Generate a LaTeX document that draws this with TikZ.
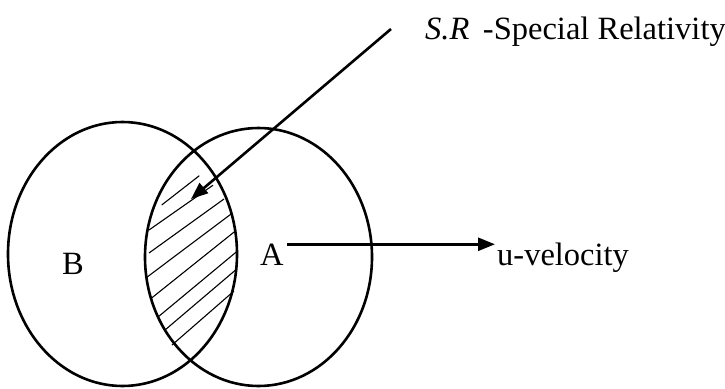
\documentclass[tikz,border=0pt]{standalone}
\usepackage{fontspec}
\setmainfont{Liberation Serif}
\usetikzlibrary{arrows.meta}
\begin{document}
\begin{tikzpicture}[x=1pt,y=-1pt,
  outline/.style={line width=2.6pt},
  hatchline/.style={line width=1.1pt},
  pointer/.style={line width=2.6pt,-{Triangle[length=17pt,width=13pt]}},
  lbl/.style={font=\fontsize{32.5}{36}\selectfont,inner sep=0pt}]
\useasboundingbox (0,0) rectangle (725,388);
% circles
\draw[outline] (122.5,254) ellipse [x radius=114.5pt, y radius=132pt];
\draw[outline] (258.5,257) ellipse [x radius=113.5pt, y radius=129pt];
% hatching
\draw[hatchline] (161.7,205) -- (199.3,175.7);
\draw[hatchline] (149,230) -- (213,185.2);
\draw[hatchline] (149,253) -- (224,199);
\draw[hatchline] (146.5,277.5) -- (231,214.1);
\draw[hatchline] (151,298.5) -- (236,230.5);
\draw[hatchline] (158,317) -- (237,251.4);
\draw[hatchline] (165,330) -- (237,268.8);
\draw[hatchline] (172,345) -- (234,291);
% labels
\node[lbl,anchor=base west] (B) at (62,274) {B};
\node[lbl,anchor=base west] (A) at (260,265) {A};
\node[lbl,anchor=base west] (u) at (497,265) {u-velocity};
\node[lbl,anchor=base west] (sr) at (425,39) {\textit{S.R}\,\ -Special Relativity};
% arrows
\coordinate (srstart) at (391,29);
\coordinate (srtip) at (191,199);
\draw[pointer] (srstart) -- (srtip);
\draw[pointer] (A.east) ++(3,-10) coordinate (astart) -- ([xshift=-2pt]u.west |- astart);
\end{tikzpicture}
\end{document}
